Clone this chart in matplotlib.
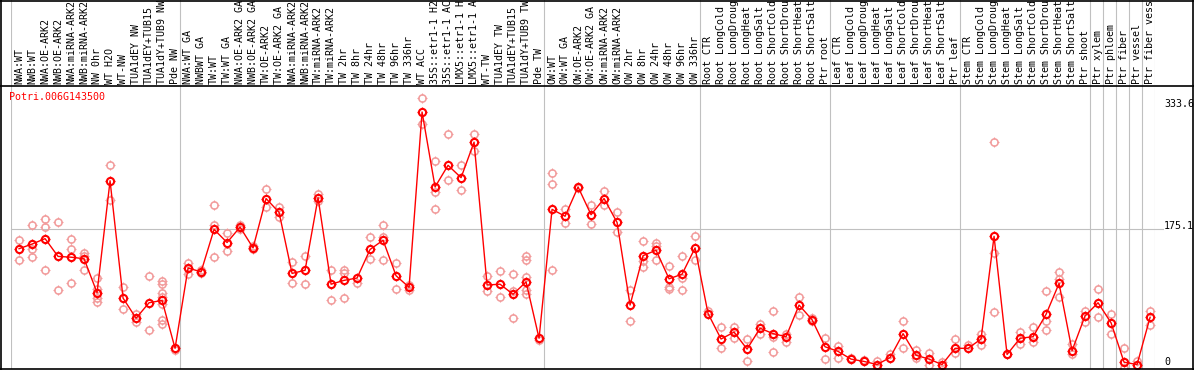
import numpy as np
import matplotlib
matplotlib.use("Agg")
import matplotlib.pyplot as plt
from matplotlib.lines import Line2D
from matplotlib.path import Path
from matplotlib.transforms import blended_transform_factory

gene = "Potri.006G143500"

# column labels as they appear (cut at the top of the picture)
labels = [
    "NWA:WT", "NWB:WT", "NWA:OE-ARK2", "NWB:OE-ARK2", "NWA:miRNA-ARK2", "NWB:miRNA-ARK2",
    "NW 0hr", "WT H2O", "WT-NW", "TUA1dEY NW", "TUA1dEY+TUB15", "TUA1dY+TUB9 NW", "Pde NW",
    "NWA:WT GA", "NWBWT GA", "TW:WT", "TW:WT GA", "NWA:OE-ARK2 GA", "NWB:OE-ARK2 GA",
    "TW:OE-ARK2", "TW:OE-ARK2 GA", "NWA:miRNA-ARK2", "NWB:miRNA-ARK2", "TW:miRNA-ARK2",
    "TW:miRNA-ARK2", "TW 2hr", "TW 8hr", "TW 24hr", "TW 48hr", "TW 96hr", "TW 336hr",
    "WT ACC", "35S::etr1-1 H2", "35S::etr1-1 AC", "LMX5::etr1-1 H", "LMX5::etr1-1 A",
    "WT-TW", "TUA1dEY TW", "TUA1dEY+TUB15", "TUA1dY+TUB9 TW", "Pde TW",
    "OW:WT", "OW:WT GA", "OW:OE-ARK2", "OW:OE-ARK2 GA", "OW:miRNA-ARK2", "OW:miRNA-ARK2",
    "OW 2hr", "OW 8hr", "OW 24hr", "OW 48hr", "OW 96hr", "OW 336hr",
    "Root CTR", "Root LongCold", "Root LongDroug", "Root LongHeat", "Root LongSalt",
    "Root ShortCold", "Root ShortDrou", "Root ShortHeat", "Root ShortSalt", "Ptr root",
    "Leaf CTR", "Leaf LongCold", "Leaf LongDroug", "Leaf LongHeat", "Leaf LongSalt",
    "Leaf ShortCold", "Leaf ShortDrou", "Leaf ShortHeat", "Leaf ShortSalt", "Ptr leaf",
    "Stem CTR", "Stem LongCold", "Stem LongDroug", "Stem LongHeat", "Stem LongSalt",
    "Stem ShortCold", "Stem ShortDrou", "Stem ShortHeat", "Stem ShortSalt", "Ptr shoot",
    "Ptr xylem", "Ptr phloem", "Ptr fiber", "Ptr vessel", "Ptr fiber vess",
]

means = [150, 156, 163, 140, 139, 137, 93, 238, 86, 60, 80, 83, 21,
         125, 120, 175, 158, 178, 151, 215, 197, 118, 122, 216, 104, 109, 112,
         149, 161, 115, 100, 327, 230, 258, 242, 288, 103, 104, 91, 107, 34,
         201, 192, 230, 194, 215, 184, 77, 141, 148, 111, 117, 151,
         66, 33, 42, 20, 47, 40, 36, 77, 58, 23,
         17, 7, 4, 0, 9, 40, 12, 7, 0, 21,
         21, 33, 166, 13, 34, 36, 65, 105, 18, 63,
         80, 54, 3, 0, 61]

reps = [
    [161, 136], [181, 150, 139], [189, 178, 122], [184, 96], [162, 150, 105],
    [145, 141, 123], [112, 98, 86, 81], [259, 213], [101, 72], [66, 55],
    [115, 45], [108, 104, 93, 88, 78, 58, 53], [19],
    [132, 117], [122, 118], [206, 181, 139], [170, 147], [181, 175], [154, 149],
    [227, 204], [204, 191], [133, 105], [140, 104], [221, 212], [123, 83],
    [122, 119, 86], [106], [165, 137], [181, 165, 136], [132, 98], [103, 96],
    [345, 312], [263, 224, 202], [298, 239], [258, 226], [298, 276],
    [115, 95], [121, 88], [117, 95, 60], [141, 135, 113, 96, 91], [32],
    [248, 234, 122], [201, 183], [228], [207, 182], [225, 206], [198, 171],
    [96, 56], [160, 134, 126], [158, 154, 136], [128, 101, 98], [140, 112, 96], [166, 135],
    [69], [49, 21], [49, 34], [33, 4], [53, 40], [69, 35, 16], [40, 29], [88, 64],
    [60, 56], [34, 7],
    [24, 9], [9], [6], [5, -5], [13], [56, 22], [19, 8], [15, -1], [3], [33, 15],
    [25], [40, 25], [288, 144, 68], [14], [42, 27], [48, 29], [95, 57, 45],
    [120, 111, 87], [27, 13], [69, 55],
    [98, 61], [65, 40], [22, -5], [4], [69, 51],
]

group_edges = [0, 13, 41, 53, 63, 73, 83, 84, 85, 86, 87, 88]
ref_values = [333.6, 175.1, 0]

W, H = 1194, 370
mono = "DejaVu Sans Mono"
grey = "#c0c0c0"
pink = "#f29a9a"

# little ticks around each circle
ticks = Path([(0, 0.7), (0, 1), (0, -0.7), (0, -1), (0.7, 0), (1, 0), (-0.7, 0), (-1, 0)],
             [Path.MOVETO, Path.LINETO] * 4)

fig = plt.figure(figsize=(W / 100, H / 100), dpi=100)
fig.patch.set_facecolor("white")

ax = fig.add_axes([11 / W, 1 / H, 1144 / W, 283 / H])
top = fig.add_axes([11 / W, 284 / H, 1144 / W, 86 / H])
for a in (ax, top):
    a.set_xlim(0, 88)
    for s in a.spines.values():
        s.set_visible(False)
    a.set_xticks([])
    a.set_yticks([])
    a.patch.set_alpha(0)
ax.set_ylim(-5.8, 360.7)
top.set_ylim(0, 86)

for e in group_edges:
    ax.axvline(e, color=grey, lw=0.8, zorder=0)
    top.axvline(e, color=grey, lw=0.8, zorder=0)
ax.axhline(175.1, xmax=1.007, color=grey, lw=0.8, zorder=0, clip_on=False)

x = np.arange(len(means)) + 0.62
rx = np.concatenate([[xi] * len(r) for xi, r in zip(x, reps)])
ry = np.concatenate(reps)
ax.plot(rx, ry, "o", mfc="none", mec=pink, ms=5.2, mew=1.1, zorder=2)
ax.plot(rx, ry, ls="none", marker=ticks, mfc="none", mec=pink, ms=6.8, mew=0.8, zorder=2)
ax.plot(x, means, "-", color="red", lw=1, zorder=3)
ax.plot(x, means, "o", mfc="none", mec="red", ms=5.2, mew=1.5, zorder=4)
ax.plot(x, means, ls="none", marker=ticks, mfc="none", mec="red", ms=6.8, mew=0.9, zorder=4)

for xi, lab in zip(x, labels):
    top.text(xi, 2, lab, rotation=90, ha="center", va="bottom",
             family=mono, fontsize=7.2, color="black")

trans = blended_transform_factory(fig.transFigure, ax.transData)
for v in ref_values:
    ax.text(1164 / W, v, f"{v:g}", transform=trans, ha="left", va="baseline",
            family=mono, fontsize=7.2, color="black", clip_on=False)

fig.text(9 / W, 1 - 97 / H, gene, color="red", family=mono, fontsize=7.2,
         ha="left", va="center")

# frame and separator
fig.add_artist(Line2D([0, 1], [1 - 86 / H] * 2, transform=fig.transFigure, color="black", lw=1.2))
fig.add_artist(Line2D([0, 1], [0.6 / H] * 2, transform=fig.transFigure, color="black", lw=1.2))
fig.add_artist(Line2D([0, 1], [1 - 0.6 / H] * 2, transform=fig.transFigure, color="black", lw=1.2))
fig.add_artist(Line2D([1.2 / W] * 2, [0, 1], transform=fig.transFigure, color="black", lw=1.2))
fig.add_artist(Line2D([1 - 1.2 / W] * 2, [0, 1], transform=fig.transFigure, color="black", lw=1.2))

fig.savefig("out.png", dpi=100)
